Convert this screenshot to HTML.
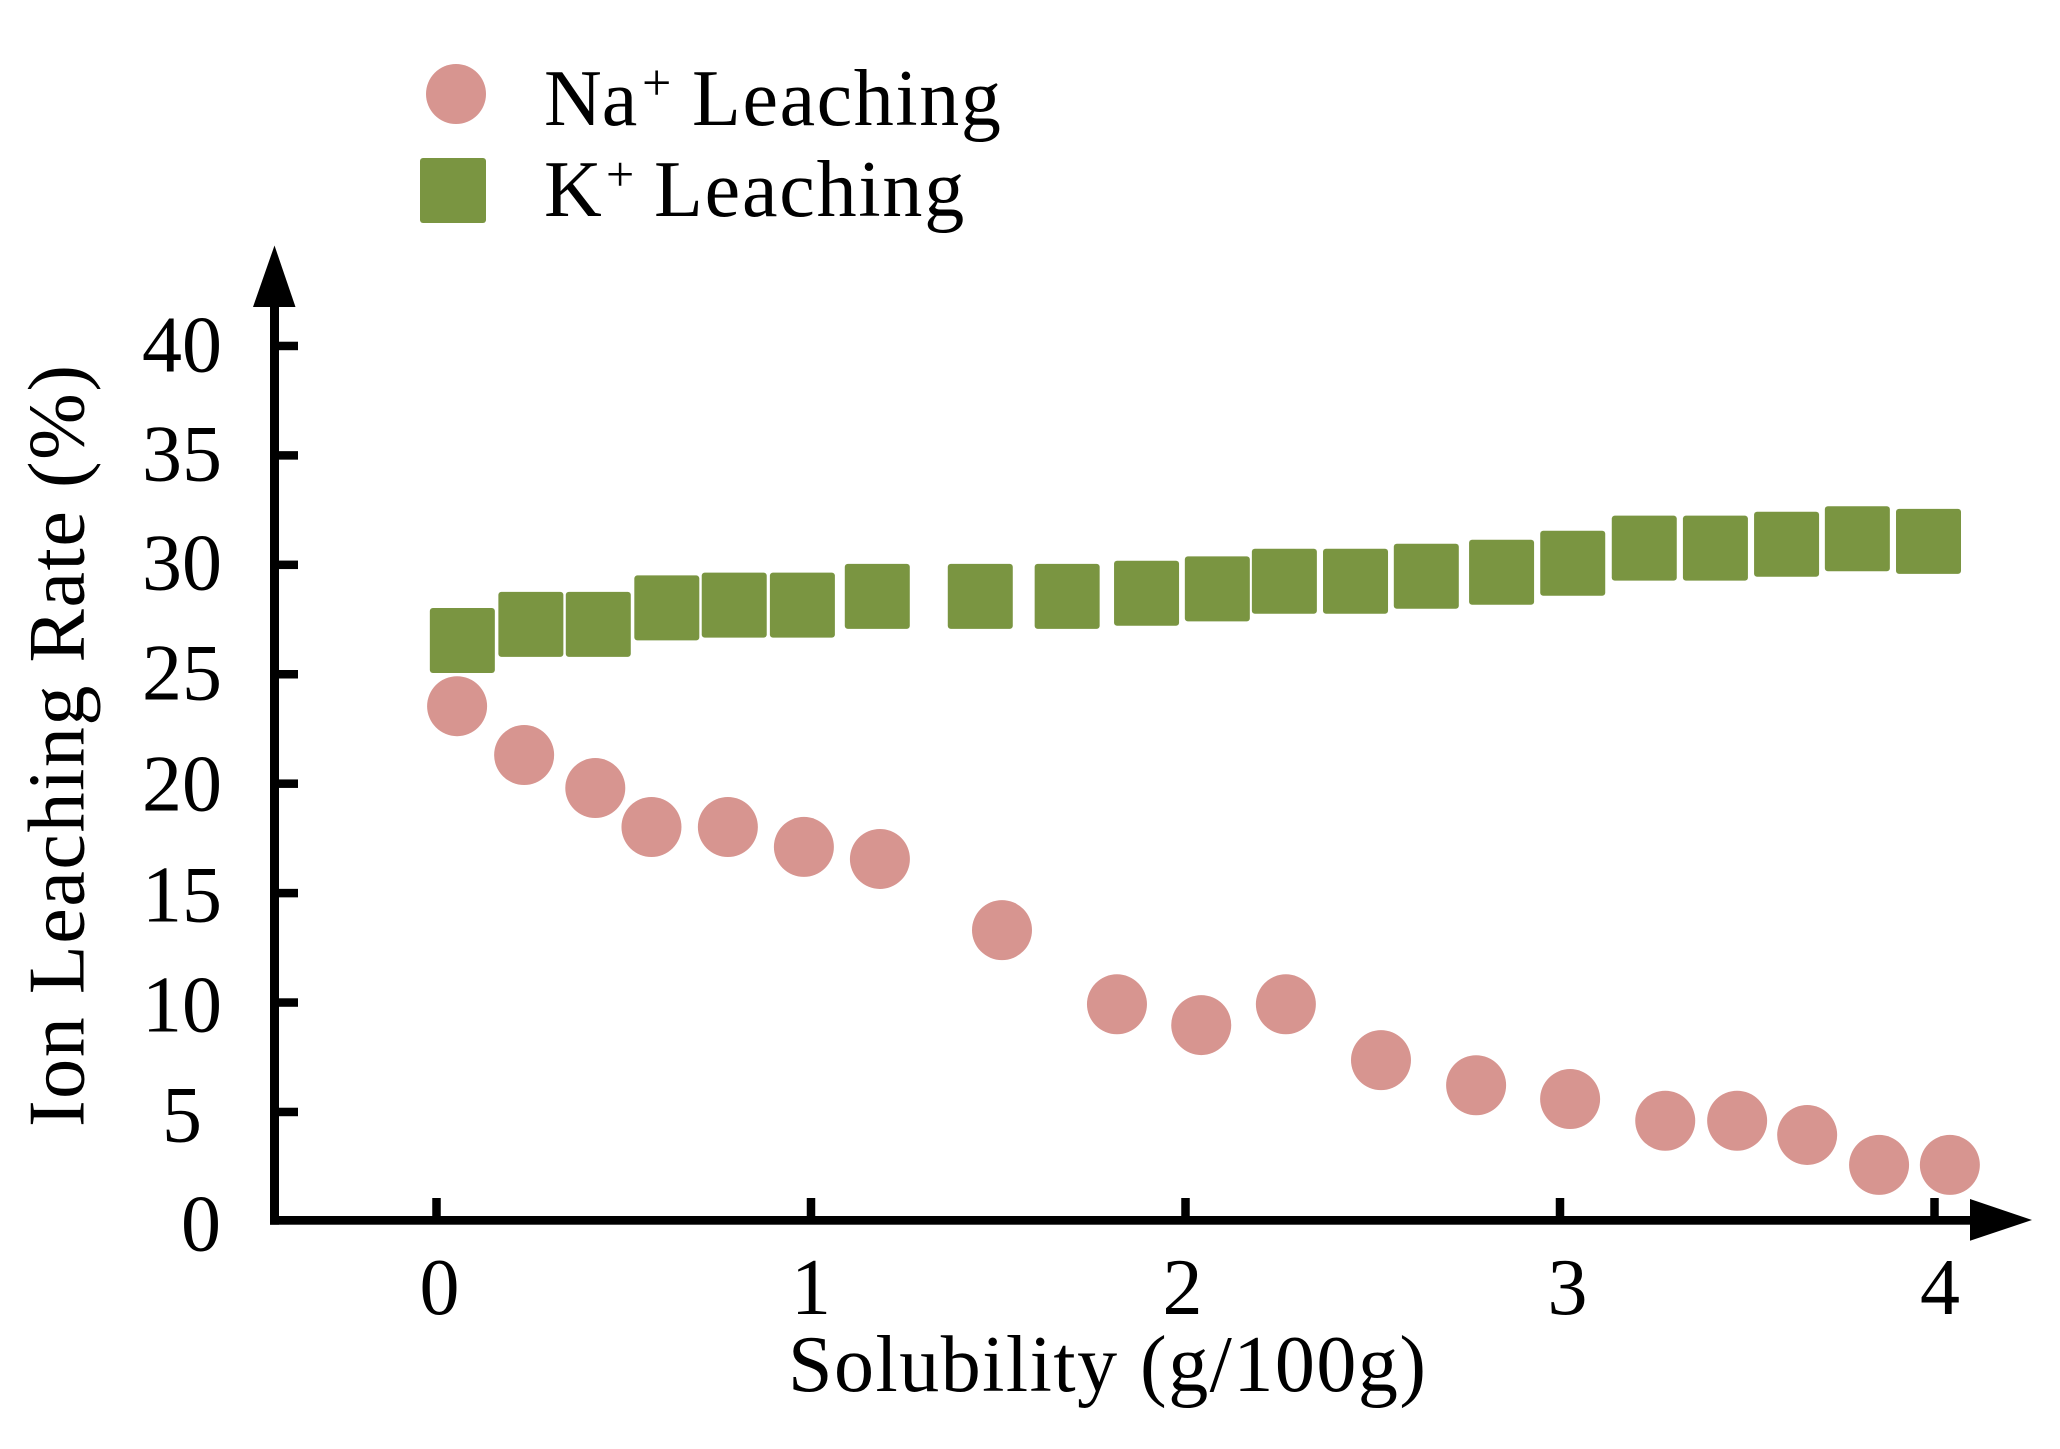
<!DOCTYPE html>
<html lang="en">
<head>
<meta charset="utf-8">
<title>Ion Leaching Rate vs Solubility</title>
<style>
  html, body { margin: 0; padding: 0; background: #ffffff; }
  svg { display: block; }
  text { font-family: "Liberation Serif", "Times New Roman", serif; fill: #000000; font-size: 80px; }
</style>
</head>
<body>
<svg id="chart" xmlns="http://www.w3.org/2000/svg" width="2060" height="1449" viewBox="0 0 2060 1449">
  <rect x="0" y="0" width="2060" height="1449" fill="#ffffff"/>

  <g>
    <circle cx="456" cy="94" r="30" fill="#d79590"/>
    <text y="125"><tspan x="544">Na</tspan><tspan x="642" dy="-25" font-size="52">+</tspan><tspan x="692" dy="25" letter-spacing="1.6">Leaching</tspan></text>
    <rect x="420" y="158" width="66" height="65" rx="3" fill="#7a9541"/>
    <text y="216"><tspan x="544">K</tspan><tspan x="606" dy="-25" font-size="50">+</tspan><tspan x="654" dy="25" letter-spacing="1.8">Leaching</tspan></text>
  </g>

  <g>
    <rect x="270" y="300" width="9" height="924.7" fill="#000000"/>
    <polygon points="253,307 295.5,307 274.5,245.5" fill="#000000"/>
    <rect x="270" y="1216" width="1715" height="8.7" fill="#000000"/>
    <polygon points="1970,1199 2032,1220 1970,1240.7" fill="#000000"/>
  </g>

  <g id="x-ticks"></g>
  <g id="y-ticks"></g>
  <g id="k-series"></g>
  <g id="na-series"></g>

  <text x="788" y="1391" textLength="638">Solubility (g/100g)</text>
  <text transform="translate(83.5 1127) rotate(-90)" x="0" y="0" textLength="762">Ion Leaching Rate (%)</text>
</svg>

<script>
const xTickValues = [0, 1, 2, 3, 4];
const yTickValues = [0, 5, 10, 15, 20, 25, 30, 35, 40];

const naSolubility = [0.055, 0.234, 0.424, 0.574, 0.778, 0.981, 1.184, 1.510, 1.817, 2.042, 2.268, 2.522, 2.776, 3.027, 3.281, 3.473, 3.660, 3.852, 4.041];
const naLeaching = [23.54, 21.31, 19.80, 18.02, 18.02, 17.11, 16.56, 13.31, 9.92, 8.97, 9.92, 7.37, 6.22, 5.59, 4.60, 4.60, 3.95, 2.58, 2.58];

const kSolubility = [0.069, 0.252, 0.432, 0.615, 0.795, 0.977, 1.177, 1.452, 1.684, 1.896, 2.085, 2.264, 2.454, 2.643, 2.844, 3.034, 3.225, 3.415, 3.605, 3.794, 3.984];
const kLeaching = [26.54, 27.28, 27.28, 28.03, 28.16, 28.16, 28.56, 28.56, 28.56, 28.70, 28.90, 29.25, 29.25, 29.48, 29.66, 30.07, 30.76, 30.76, 30.94, 31.19, 31.07];

const SVG_NS = 'http://www.w3.org/2000/svg';

function xScale(v) { return 436.5 + 374.5 * v; }
function yScale(v) { return 1221.4 - 21.886 * v; }

function make(tag, attrs, parent) {
  const node = document.createElementNS(SVG_NS, tag);
  Object.keys(attrs).forEach(function (k) { node.setAttribute(k, attrs[k]); });
  parent.appendChild(node);
  return node;
}

function drawXTicks() {
  const group = document.getElementById('x-ticks');
  const labelNudge = { 0: 3, 1: 0, 2: -3, 3: 7.5, 4: 5.5 };
  xTickValues.forEach(function (v) {
    const tick = make('rect', { x: xScale(v) - 4.25, y: 1198, width: 8.5, height: 20, fill: '#000000' }, group);
    
    
    const label = make('text', { x: xScale(v) + (labelNudge[v] || 0), y: 1314, 'text-anchor': 'middle' }, group);
    
    
    label.textContent = String(v);
  });
}

function drawYTicks() {
  const group = document.getElementById('y-ticks');
  const baselineNudge = { 0: -2.5, 5: -1.5, 10: -1.5, 15: -1.5, 20: -2.5, 25: -3.5, 30: -3.5, 35: -2.5, 40: -1.5 };
  yTickValues.forEach(function (v) {
    if (v !== 0) {
      const tick = make('rect', { x: 279, y: yScale(v) - 4.25, width: 19, height: 8.5, fill: '#000000' }, group);
      
      
    }
    const label = make('text', {
      x: v === 0 ? 201 : 182,
      y: 1253 - 22 * v + (baselineNudge[v] || 0),
      'text-anchor': 'middle'
    }, group);
    
    
    label.textContent = String(v);
  });
}

function drawKSeries() {
  const group = document.getElementById('k-series');
  kSolubility.forEach(function (s, i) {
    const mark = make('rect', {
      x: xScale(s) - 32.5,
      y: yScale(kLeaching[i]) - 32.5,
      width: 65,
      height: 65,
      rx: 3,
      fill: '#7a9541'
    }, group);
    
    
  });
}

function drawNaSeries() {
  const group = document.getElementById('na-series');
  naSolubility.forEach(function (s, i) {
    const mark = make('circle', {
      cx: xScale(s),
      cy: yScale(naLeaching[i]),
      r: 30,
      fill: '#d79590'
    }, group);
    
    
  });
}

drawXTicks();
drawYTicks();
drawKSeries();
drawNaSeries();
</script>
</body>
</html>
